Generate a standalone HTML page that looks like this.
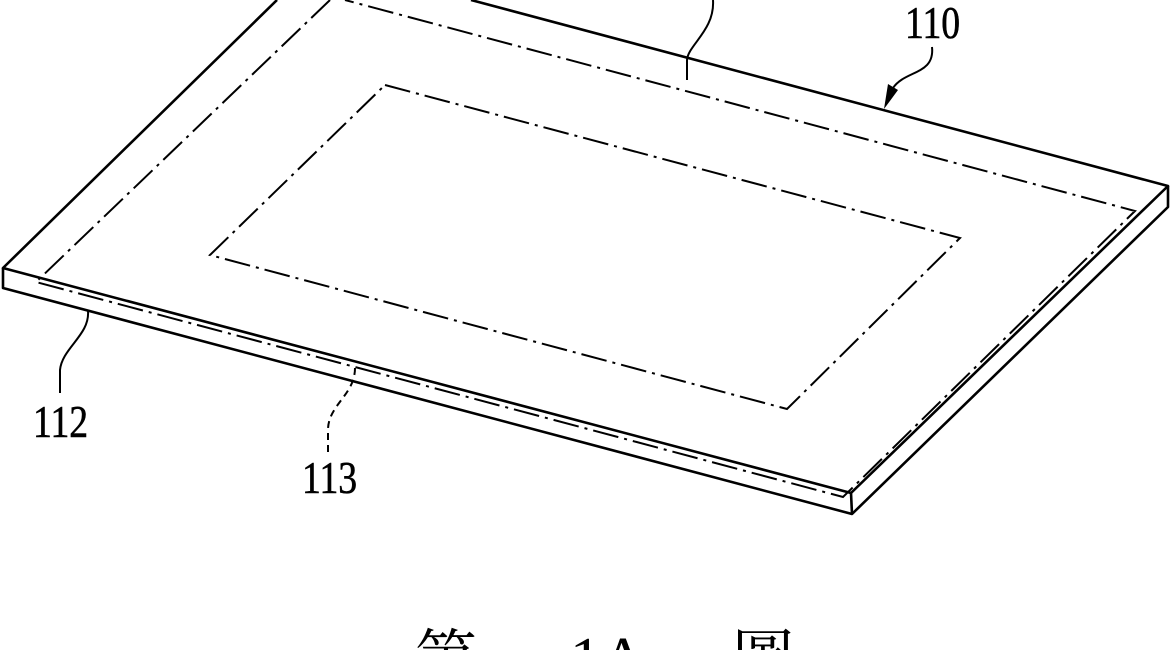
<!DOCTYPE html>
<html><head><meta charset="utf-8"><style>
html,body{margin:0;padding:0;background:#fff;width:1170px;height:650px;overflow:hidden}
svg{display:block}
text{font-family:"Liberation Serif","Noto Serif CJK SC",serif;fill:#000}
</style></head><body>
<svg width="1170" height="650" viewBox="0 0 1170 650">
<g fill="none" stroke="#000" stroke-width="2.6" stroke-linejoin="round">
<polyline points="277,0 3,268 851,493 1168,186 471,0"/>
<polyline points="3,268 3,288 852,514 1168,207 1168,186"/>
<line x1="851" y1="493" x2="852" y2="514"/>
</g>
<g fill="none" stroke="#000" stroke-width="2" stroke-dasharray="26,6,3,6">
<polyline points="330,0 36,282 843,497 1135,211 345,0"/>
<polygon points="385,85 960,238 787,409 210,255"/>
</g>
<g fill="none" stroke="#000" stroke-width="2">
<path d="M88,311 C90,335 62,348 60,370 L60,393"/>
<path d="M355,368 C355,395 328,405 328,430 L328,452" stroke-dasharray="7,5"/>
<path d="M932,47 C935,75 905,70 893,88"/>
<path d="M713,0 C715,30 688,45 687,60 L687,80"/>
</g>
<polygon points="884,109 888,84 898,90" fill="#000"/>
<g font-size="46" stroke="#000" stroke-width="0.6">
<text x="33" y="437" transform="translate(33,0) scale(0.82,1) translate(-33,0)">112</text>
<text x="302" y="493" transform="translate(302,0) scale(0.82,1) translate(-302,0)">113</text>
<text x="905" y="38" transform="translate(905,0) scale(0.82,1) translate(-905,0)">110</text>
</g>
<g font-size="62">
<text x="415" y="680">第</text>
<text x="570" y="680">1A</text>
<text x="732" y="680">圖</text>
</g>
</svg>
</body></html>
